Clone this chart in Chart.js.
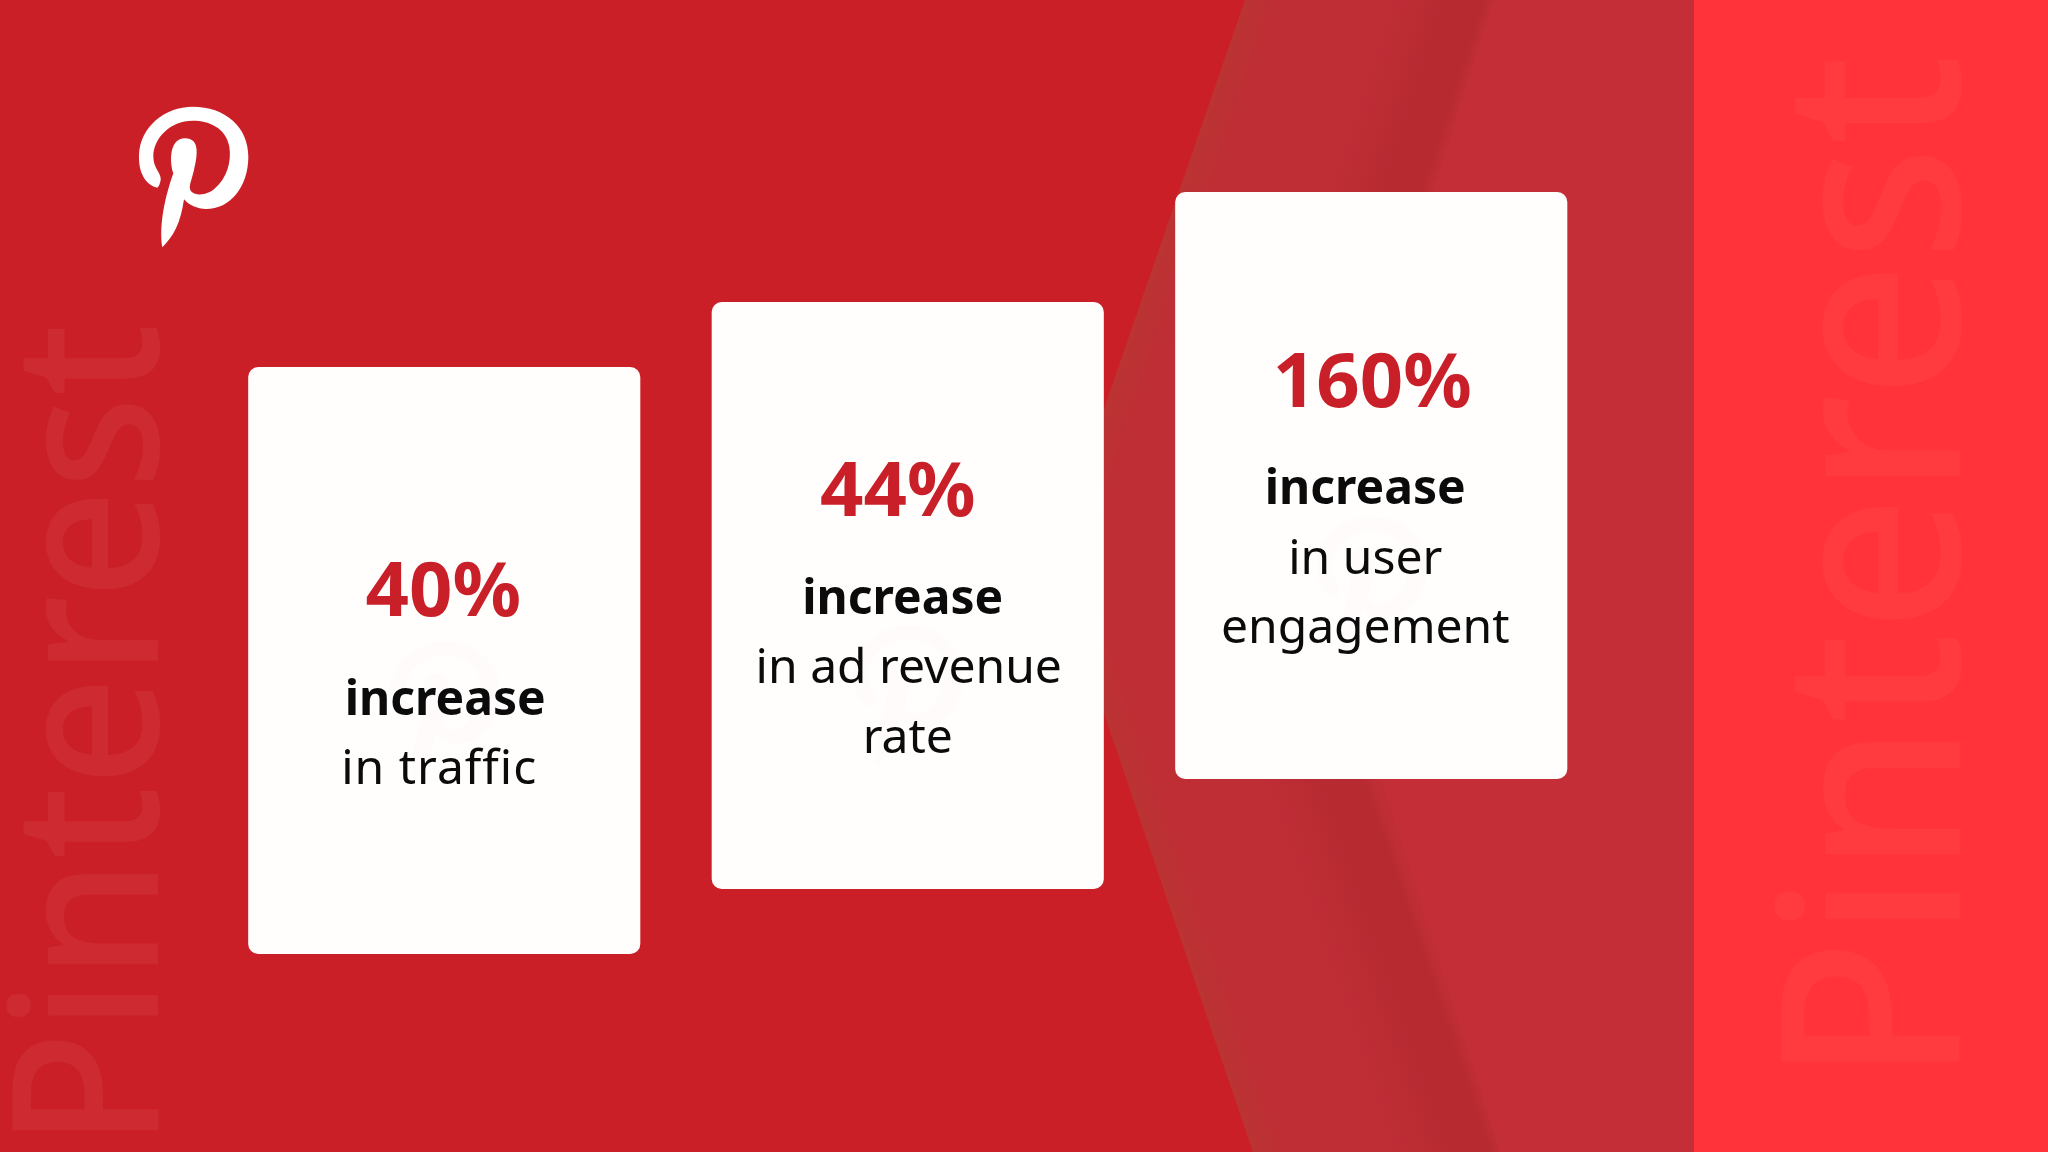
<!DOCTYPE html>
<html>
<head>
<meta charset="utf-8">
<title>Pinterest</title>
<style>
  html, body { margin: 0; padding: 0; background: #cb1f27; }
  canvas { display: block; }
</style>
<script src="https://cdn.jsdelivr.net/npm/chart.js@4"></script>
</head>
<body>
<canvas id="cardChart" width="2048" height="1152"></canvas>
<script>
  // the chart's values
  const categories = ["traffic", "ad revenue rate", "user engagement"];
  const percentValues = [40, 44, 160];
  const boldLabels = ["increase", "increase", "increase"];
  const detailLabels = [["in traffic"], ["in ad revenue", "rate"], ["in user", "engagement"]];
  const watermarkText = "Pinterest";

  // layout of the cards, in y scale units (the steps are not to scale in the original)
  const cardFloor = [198, 263, 373];
  const cardHeight = 587;

  // text offsets from the card centre / card top: [dx, baseline]
  const percentPos = [[-1, 249], [-10, 214], [1, 215]];
  const boldPos = [[1, 348], [-5, 312], [-6, 312]];
  const detailPos = [[[-5, 417]], [[1, 381], [0, 451]], [[-6, 382], [-6, 451]]];
  const detailSpacing = ["1px", "0px", "0px"];
  const ghostTop = [275, 324, 325];

  const logoPath = new Path2D(
    "M112 293C75 285 55 245 57 195C60 110 135 50 218 50C315 50 385 110 385 200" +
    "C385 290 330 357 258 357C232 357 206 345 192 328C182 400 160 440 127 472" +
    "C118 420 128 340 160 250C148 215 148 145 195 145C240 145 233 195 222 240" +
    "C215 270 205 290 212 302C222 318 262 318 285 295C320 265 335 215 328 170" +
    "C318 115 270 92 218 92C150 92 100 145 100 200C100 235 125 250 122 270" +
    "C120 280 118 288 112 293Z"
  );

  function polygon(ctx, pts) {
    ctx.beginPath();
    pts.forEach(function (p, i) {
      if (i === 0) ctx.moveTo(p[0], p[1]);
      else ctx.lineTo(p[0], p[1]);
    });
    ctx.closePath();
  }

  function watermark(ctx, baseX, startY, size, length, color) {
    ctx.save();
    ctx.translate(baseX, startY);
    ctx.rotate(-Math.PI / 2);
    ctx.font = "500 " + size + "px 'Noto Sans'";
    ctx.textAlign = "left";
    ctx.textBaseline = "alphabetic";
    ctx.fillStyle = color;
    ctx.fillText(watermarkText, 0, 0, length);
    ctx.restore();
  }

  // soft band: transparent far from the edge, solid near it, quick fade on the edge itself
  function bandGradient(ctx, x0, y0, x1, y1) {
    const grad = ctx.createLinearGradient(x0, y0, x1, y1);
    grad.addColorStop(0, "rgba(182,42,48,0)");
    grad.addColorStop(0.55, "rgba(182,42,48,0.85)");
    grad.addColorStop(0.9, "rgba(182,42,48,1)");
    grad.addColorStop(1, "rgba(182,42,48,0)");
    return grad;
  }

  function sheenGradient(ctx, x0, y0, x1, y1) {
    const grad = ctx.createLinearGradient(x0, y0, x1, y1);
    grad.addColorStop(0, "rgba(184,58,50,0.5)");
    grad.addColorStop(1, "rgba(184,58,50,0)");
    return grad;
  }

  // slide background, painted before the bars
  const backgroundPlugin = {
    id: "slideBackground",
    beforeDraw: function (chart) {
      const ctx = chart.ctx;
      ctx.save();
      ctx.fillStyle = "#cb1f27";
      ctx.fillRect(0, 0, 2048, 1152);

      // lighter chevron, its tip sits behind the middle card
      const chevron = [[1245, 0], [1694, 0], [1694, 1152], [1253, 1152], [1052, 560]];
      ctx.save();
      polygon(ctx, chevron);
      ctx.clip();
      ctx.fillStyle = "#bf2d35";
      ctx.fillRect(1000, 0, 700, 1152);

      // light sheen along the chevron edges
      ctx.fillStyle = sheenGradient(ctx, 1245, 0, 1283, 13);
      ctx.fillRect(1000, 0, 400, 560);
      ctx.fillStyle = sheenGradient(ctx, 1253, 1152, 1291, 1139);
      ctx.fillRect(1000, 560, 400, 592);

      // part right of the dark band
      ctx.fillStyle = "#c42e36";
      polygon(ctx, [[1493, 0], [1694, 0], [1694, 1152], [1500, 1152], [1380, 778], [1340, 480], [1433, 190]]);
      ctx.fill();

      // dark band, soft on the left
      ctx.fillStyle = bandGradient(ctx, 1398, -31, 1493, 0);
      ctx.fillRect(1200, 0, 400, 480);
      ctx.fillStyle = bandGradient(ctx, 1400, 1186, 1500, 1152);
      ctx.fillRect(1200, 480, 400, 672);
      ctx.restore();

      // right panel
      ctx.fillStyle = "#ff3339";
      ctx.fillRect(1694, 0, 354, 1152);

      watermark(ctx, 158, 1148, 203, 825, "rgba(255,255,255,0.05)");
      watermark(ctx, 1960, 1084, 250, 1030, "rgba(255,255,255,0.04)");

      // logo
      ctx.translate(120, 90);
      ctx.scale(1 / 3, 1 / 3);
      ctx.fillStyle = "#ffffff";
      ctx.fill(logoPath);
      ctx.restore();
    }
  };

  // card text, placed from each bar's own position
  const cardTextPlugin = {
    id: "cardText",
    afterDatasetsDraw: function (chart) {
      const ctx = chart.ctx;
      const bars = chart.getDatasetMeta(0).data;
      ctx.save();
      ctx.textAlign = "center";
      ctx.textBaseline = "alphabetic";
      bars.forEach(function (bar, i) {
        const cx = bar.x;
        const top = bar.y;

        // very faint logo behind the words
        ctx.save();
        ctx.translate(cx - 73, top + ghostTop[i] - 17);
        ctx.scale(1 / 3, 1 / 3);
        ctx.fillStyle = "rgba(203,31,39,0.012)";
        ctx.fill(logoPath);
        ctx.restore();

        ctx.fillStyle = "#c91f28";
        ctx.font = "700 76px 'Noto Sans'";
        ctx.fillText(percentValues[i] + "%", cx + percentPos[i][0], top + percentPos[i][1]);

        ctx.fillStyle = "#0b0b0b";
        ctx.font = "700 48px 'Noto Sans'";
        ctx.fillText(boldLabels[i], cx + boldPos[i][0], top + boldPos[i][1]);

        ctx.font = "400 48px 'Noto Sans'";
        ctx.letterSpacing = detailSpacing[i];
        detailLabels[i].forEach(function (line, j) {
          ctx.fillText(line, cx + detailPos[i][j][0], top + detailPos[i][j][1]);
        });
        ctx.letterSpacing = "0px";
      });
      ctx.restore();
    }
  };

  const ctx = document.getElementById("cardChart").getContext("2d");
  const chart = new Chart(ctx, {
    type: "bar",
    data: {
      labels: categories,
      datasets: [{
        label: "increase",
        data: percentValues.map(function (v, i) {
          return [cardFloor[i], cardFloor[i] + cardHeight];
        }),
        backgroundColor: "#fffefd",
        borderWidth: 0,
        borderSkipped: false,
        borderRadius: 10,
        categoryPercentage: 1,
        barPercentage: 0.846
      }]
    },
    options: {
      responsive: false,
      devicePixelRatio: 1,
      animation: false,
      layout: { padding: { left: 212.5, right: 445, top: 0, bottom: 0 } },
      plugins: {
        legend: { display: false },
        tooltip: { enabled: false },
        title: { display: false }
      },
      scales: {
        x: { display: false },
        y: { display: false, min: 0, max: 1152 }
      }
    },
    plugins: [backgroundPlugin, cardTextPlugin]
  });
</script>
</body>
</html>
